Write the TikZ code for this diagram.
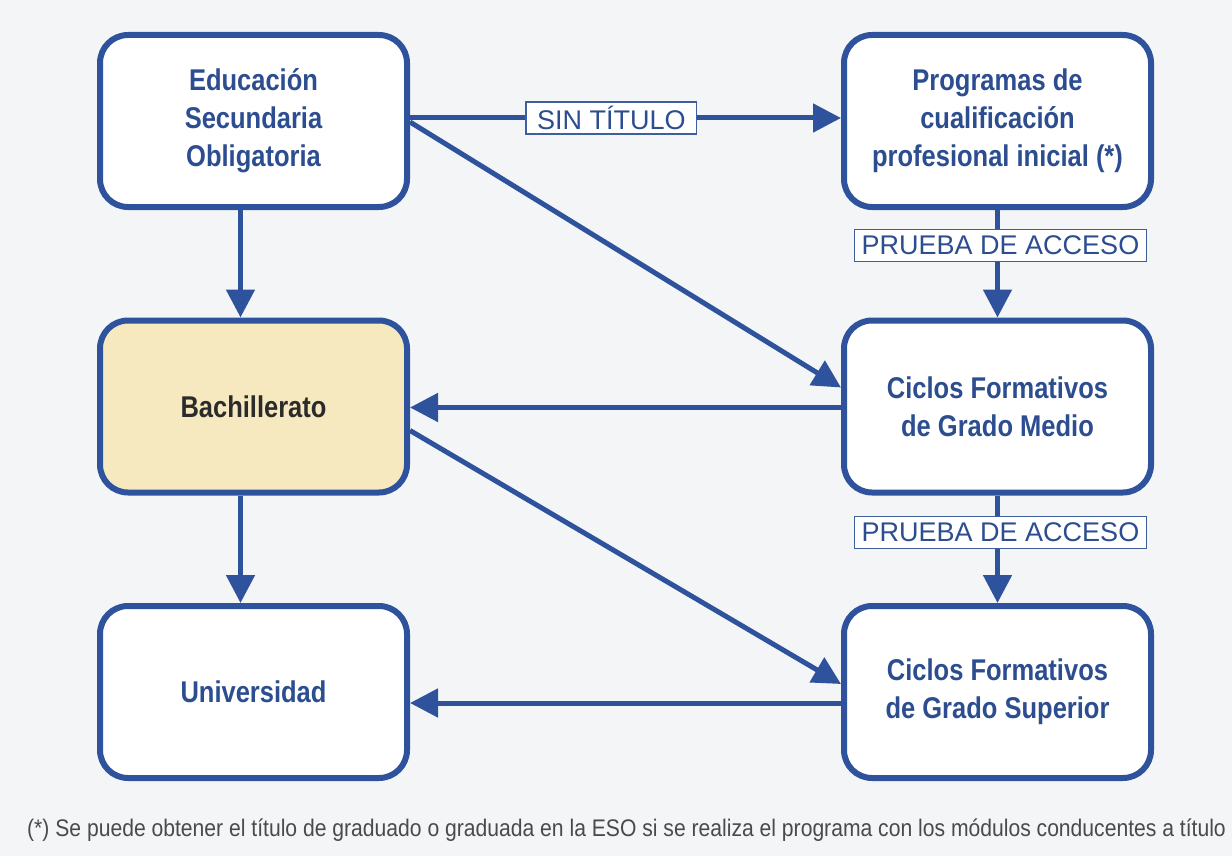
\documentclass[tikz,border=0pt]{standalone}
\usepackage{fontspec}
\setmainfont{Liberation Sans}
\newfontfamily\cond{Liberation Sans}[FakeStretch=0.85]
\newfontfamily\footf{Liberation Sans}[FakeStretch=0.88]
\usetikzlibrary{arrows.meta}
\definecolor{bg}{HTML}{F4F5F6}
\definecolor{ublue}{HTML}{2E529C}
\definecolor{tblue}{HTML}{2C4D8F}
\definecolor{lblue}{HTML}{3E5E9E}
\definecolor{bachfill}{HTML}{F7E9BF}
\definecolor{bachtext}{HTML}{2B2B2B}
\definecolor{foottext}{HTML}{4A4A4A}
\tikzset{
  box/.style={draw=ublue, line width=6pt, rounded corners=28pt, fill=white,
    minimum width=307pt, minimum height=172pt, inner sep=0pt, align=center,
    text=tblue, font=\cond\bfseries\fontsize{30}{38}\selectfont},
  arr/.style={draw=ublue, line width=5pt, -{Triangle[length=28pt,width=28pt]}},
  lab/.style={draw=lblue, line width=1.5pt, fill=white, text=tblue,
    font=\fontsize{27}{30}\selectfont, inner xsep=7pt, inner ysep=2pt,
    minimum height=32pt},
}
\begin{document}
\begin{tikzpicture}[x=1pt,y=-1pt]
\fill[bg] (0,0) rectangle (1232,856);
\useasboundingbox (0,0) rectangle (1232,856);

\node[box] (eso)  at (253.5,121)   {Educación\\Secundaria\\Obligatoria};
\node[box] (pcpi) at (997.5,121)   {Programas de\\cualificación\\profesional inicial (*)};
\node[box, fill=bachfill, text=bachtext] (bach) at (253.5,406.5) {Bachillerato};
\node[box] (cfgm) at (997.5,406.5) {Ciclos Formativos\\de Grado Medio};
\node[box] (univ) at (253.5,692)   {Universidad};
\node[box] (cfgs) at (997.5,692)   {Ciclos Formativos\\de Grado Superior};

\draw[arr] ([yshift=3pt]eso.east) -- node[lab, pos=0.467, inner xsep=11pt] {SIN TÍTULO} ([yshift=3pt]pcpi.west);
\draw[arr] ([yshift=-1pt]eso.east) -- ([yshift=19pt]cfgm.west);
\draw[arr] ([xshift=-13pt]eso.south) -- ([xshift=-13pt]bach.north);
\draw[arr] (pcpi.south) -- node[lab, pos=0.33, xshift=3pt] {PRUEBA DE ACCESO} (cfgm.north);
\draw[arr] ([yshift=-1pt]cfgm.west) -- ([yshift=-1pt]bach.east);
\draw[arr] ([yshift=-24pt]bach.east) -- ([yshift=8pt]cfgs.west);
\draw[arr] ([xshift=-13pt]bach.south) -- ([xshift=-13pt]univ.north);
\draw[arr] (cfgm.south) -- node[lab, pos=0.345, xshift=3pt] {PRUEBA DE ACCESO} (cfgs.north);
\draw[arr] ([yshift=-11pt]cfgs.west) -- ([yshift=-11pt]univ.east);

\node[anchor=base west, inner sep=0pt, text=foottext, font=\footf\fontsize{24}{28}\selectfont] (foot) at (27,836)
  {(*) Se puede obtener el título de graduado o graduada en la ESO si se realiza el programa con los módulos conducentes a título};
\end{tikzpicture}
\end{document}
